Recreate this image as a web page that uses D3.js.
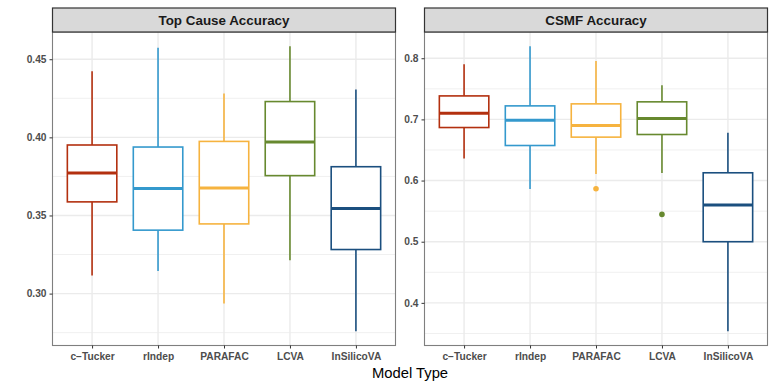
<!DOCTYPE html>
<html>
<head>
<meta charset="utf-8">
<script src="https://cdn.jsdelivr.net/npm/d3@7"></script>
<style>
  body { margin: 0; background: #fff; }
  svg { font-family: "Liberation Sans", Arial, sans-serif; }
</style>
</head>
<body>
<svg id="chart" width="775" height="388"></svg>
<script>
// Data -----------------------------------------
var models = ["c\u2212Tucker", "rIndep", "PARAFAC", "LCVA", "InSilicoVA"];
var colors = ["#b3300f", "#3499cd", "#f6b33f", "#67892f", "#1b4f7f"];

// [lower whisker, q1, median, q3, upper whisker]
var topCause = [
  [0.3116, 0.3587, 0.3772, 0.3951, 0.4423],
  [0.3144, 0.3406, 0.3672, 0.3938, 0.4574],
  [0.2937, 0.3446, 0.3676, 0.3974, 0.4280],
  [0.3214, 0.3755, 0.3970, 0.4229, 0.4583],
  [0.2759, 0.3282, 0.3544, 0.3812, 0.4306]
];
var topCauseOut = [[], [], [], [], []];

var csmf = [
  [0.6360, 0.6867, 0.7102, 0.7384, 0.7900],
  [0.5861, 0.6573, 0.6988, 0.7221, 0.8196],
  [0.6106, 0.6710, 0.6900, 0.7254, 0.7956],
  [0.6122, 0.6753, 0.7014, 0.7287, 0.7559],
  [0.3536, 0.5000, 0.5600, 0.6127, 0.6780]
];
var csmfOut = [[], [], [0.5866], [0.5447], []];

var topTicks = [0.30, 0.35, 0.40, 0.45];
var csmfTicks = [0.4, 0.5, 0.6, 0.7, 0.8];

// Layout ---------------------------------------
var svg = d3.select("#chart");
var panelTop = 32, panelBottom = 345.5, stripTop = 8;

var panels = [
  { title: "Top Cause Accuracy", stats: topCause, out: topCauseOut, ticks: topTicks,
    fmt: d3.format(".2f"), x0: 52.5, x1: 395.5 },
  { title: "CSMF Accuracy", stats: csmf, out: csmfOut, ticks: csmfTicks,
    fmt: d3.format(".1f"), x0: 424.5, x1: 767.5 }
];

panels.forEach(function(p) {
  var lo = d3.min(p.stats.map(function(d, i) { return d3.min([d[0]].concat(p.out[i])); }));
  var hi = d3.max(p.stats, function(d) { return d[4]; });
  var pad = (hi - lo) * 0.05;

  var x = d3.scalePoint().domain(models).range([p.x0, p.x1]).padding(0.6);
  var y = d3.scaleLinear().domain([lo - pad, hi + pad]).range([panelBottom, panelTop]);
  var bw = x.step() * 0.75;

  var g = svg.append("g");

  // grid
  var minor = [];
  var step = p.ticks[1] - p.ticks[0];
  for (var i = -1; i < p.ticks.length; i++) {
    var v = p.ticks[0] + step * (i + 0.5);
    if (v > y.domain()[0] && v < y.domain()[1]) minor.push(v);
  }
  g.selectAll(".minor").data(minor).enter().append("line")
    .attr("x1", p.x0).attr("x2", p.x1)
    .attr("y1", function(d) { return y(d); }).attr("y2", function(d) { return y(d); })
    .attr("stroke", "#f0f0f0").attr("stroke-width", 1);
  g.selectAll(".major").data(p.ticks).enter().append("line")
    .attr("x1", p.x0).attr("x2", p.x1)
    .attr("y1", function(d) { return y(d); }).attr("y2", function(d) { return y(d); })
    .attr("stroke", "#ebebeb").attr("stroke-width", 1.4);
  g.selectAll(".vgrid").data(models).enter().append("line")
    .attr("x1", function(d) { return x(d); }).attr("x2", function(d) { return x(d); })
    .attr("y1", panelTop).attr("y2", panelBottom)
    .attr("stroke", "#ebebeb").attr("stroke-width", 1.4);

  // boxes
  var boxes = g.selectAll(".box").data(p.stats).enter().append("g");
  boxes.append("line")
    .attr("x1", function(d, i) { return x(models[i]); })
    .attr("x2", function(d, i) { return x(models[i]); })
    .attr("y1", function(d) { return y(d[4]); })
    .attr("y2", function(d) { return y(d[3]); })
    .attr("stroke", function(d, i) { return colors[i]; }).attr("stroke-width", 1.6);
  boxes.append("line")
    .attr("x1", function(d, i) { return x(models[i]); })
    .attr("x2", function(d, i) { return x(models[i]); })
    .attr("y1", function(d) { return y(d[1]); })
    .attr("y2", function(d) { return y(d[0]); })
    .attr("stroke", function(d, i) { return colors[i]; }).attr("stroke-width", 1.6);
  boxes.append("rect")
    .attr("x", function(d, i) { return x(models[i]) - bw / 2; })
    .attr("y", function(d) { return y(d[3]); })
    .attr("width", bw)
    .attr("height", function(d) { return y(d[1]) - y(d[3]); })
    .attr("fill", "#fff")
    .attr("stroke", function(d, i) { return colors[i]; }).attr("stroke-width", 1.6);
  boxes.append("line")
    .attr("x1", function(d, i) { return x(models[i]) - bw / 2; })
    .attr("x2", function(d, i) { return x(models[i]) + bw / 2; })
    .attr("y1", function(d) { return y(d[2]); })
    .attr("y2", function(d) { return y(d[2]); })
    .attr("stroke", function(d, i) { return colors[i]; }).attr("stroke-width", 3);

  // outliers
  p.out.forEach(function(vals, i) {
    g.selectAll(null).data(vals).enter().append("circle")
      .attr("cx", x(models[i])).attr("cy", function(d) { return y(d); })
      .attr("r", 2.8).attr("fill", colors[i]);
  });

  // panel border
  g.append("rect")
    .attr("x", p.x0).attr("y", panelTop)
    .attr("width", p.x1 - p.x0).attr("height", panelBottom - panelTop)
    .attr("fill", "none").attr("stroke", "#7f7f7f").attr("stroke-width", 1.1);

  // strip
  g.append("rect")
    .attr("x", p.x0).attr("y", stripTop)
    .attr("width", p.x1 - p.x0).attr("height", panelTop - stripTop)
    .attr("fill", "#d9d9d9").attr("stroke", "#333").attr("stroke-width", 1.2);
  g.append("text")
    .attr("x", (p.x0 + p.x1) / 2).attr("y", (stripTop + panelTop) / 2 + 4.8)
    .attr("text-anchor", "middle")
    .attr("font-size", 13.4).attr("font-weight", "bold").attr("fill", "#1a1a1a")
    .text(p.title);

  // axes
  var ya = g.append("g").attr("transform", "translate(" + p.x0 + ",0)")
    .call(d3.axisLeft(y).tickValues(p.ticks).tickFormat(p.fmt).tickSize(3).tickPadding(3));
  var xa = g.append("g").attr("transform", "translate(0," + panelBottom + ")")
    .call(d3.axisBottom(x).tickSize(3).tickPadding(4));
  [ya, xa].forEach(function(a) {
    a.select(".domain").remove();
    a.selectAll(".tick line").attr("stroke", "#333").attr("stroke-width", 1);
    a.selectAll("text").attr("fill", "#4d4d4d").attr("font-size", 10.2)
      .attr("font-weight", "bold").attr("font-family", "Liberation Sans, Arial, sans-serif");
  });
});

svg.append("text")
  .attr("x", 410).attr("y", 378)
  .attr("text-anchor", "middle")
  .attr("font-size", 14.8).attr("fill", "#000")
  .text("Model Type");
</script>
</body>
</html>
